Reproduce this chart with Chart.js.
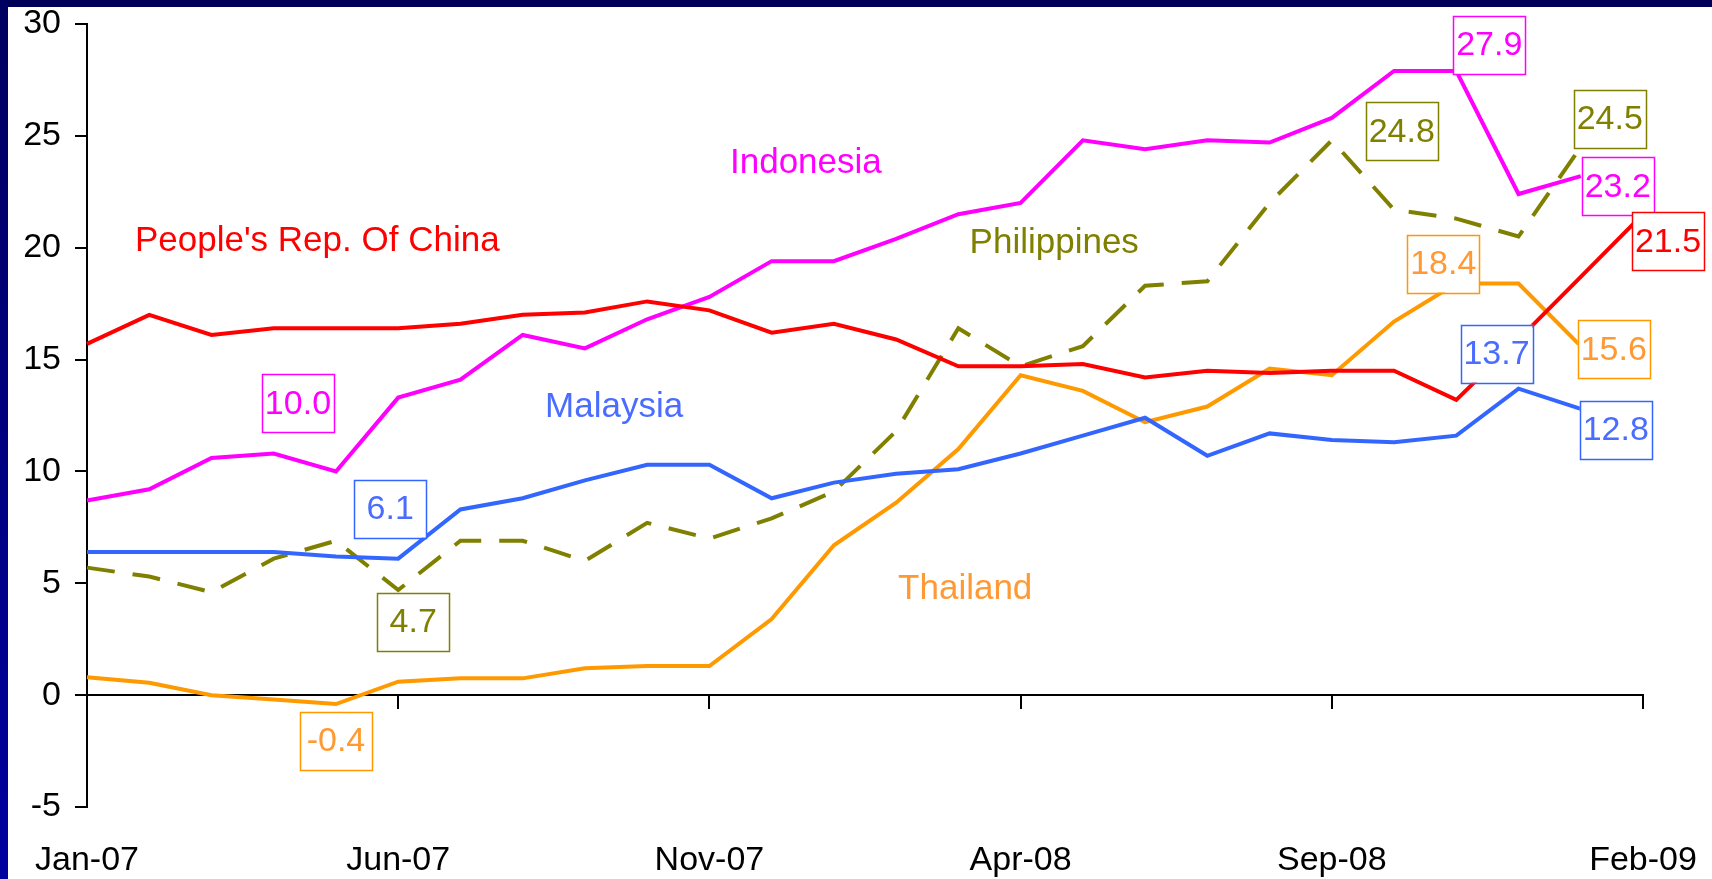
<!DOCTYPE html>
<html>
<head>
<meta charset="utf-8">
<script src="https://cdn.jsdelivr.net/npm/chart.js@4.4.0/dist/chart.umd.min.js"></script>
<style>
    html, body { margin: 0; padding: 0; overflow: hidden; background: #fff; }
    #topBand { position: absolute; left: 0; top: 0; width: 1712px; height: 7px; background: #000058; z-index: 2; }
    #leftBand { position: absolute; left: 0; top: 0; width: 8px; height: 879px; background: linear-gradient(#000060, #0000a0); z-index: 2; }
    #chart { position: absolute; left: 0; top: 0; }
</style>
</head>
<body>
<div id="topBand"></div>
<div id="leftBand"></div>
<canvas id="chart" width="1712" height="879"></canvas>
<script>
// categories
const months = ['Jan-07', 'Feb-07', 'Mar-07', 'Apr-07', 'May-07', 'Jun-07', 'Jul-07', 'Aug-07', 'Sep-07', 'Oct-07', 'Nov-07', 'Dec-07',
    'Jan-08', 'Feb-08', 'Mar-08', 'Apr-08', 'May-08', 'Jun-08', 'Jul-08', 'Aug-08', 'Sep-08', 'Oct-08', 'Nov-08', 'Dec-08',
    'Jan-09', 'Feb-09'];

// series values
const china = [15.7, 17.0, 16.1, 16.4, 16.4, 16.4, 16.6, 17.0, 17.1, 17.6, 17.2, 16.2, 16.6, 15.9, 14.7, 14.7, 14.8, 14.2, 14.5, 14.4, 14.5, 14.5, 13.2, 15.9, 18.7, 21.5];
const indonesia = [8.7, 9.2, 10.6, 10.8, 10.0, 13.3, 14.1, 16.1, 15.5, 16.8, 17.8, 19.4, 19.4, 20.4, 21.5, 22.0, 24.8, 24.4, 24.8, 24.7, 25.8, 27.9, 27.9, 22.4, 23.2, null];
const malaysia = [6.4, 6.4, 6.4, 6.4, 6.2, 6.1, 8.3, 8.8, 9.6, 10.3, 10.3, 8.8, 9.5, 9.9, 10.1, 10.8, 11.6, 12.4, 10.7, 11.7, 11.4, 11.3, 11.6, 13.7, 12.8, null];
const philippines = [5.7, 5.3, 4.6, 6.1, 6.9, 4.7, 6.9, 6.9, 6.0, 7.7, 7.0, 7.9, 9.1, 11.8, 16.4, 14.7, 15.6, 18.3, 18.5, 22.0, 24.8, 21.7, 21.3, 20.5, 24.5, null];
const thailand = [0.8, 0.55, 0.0, -0.2, -0.4, 0.6, 0.75, 0.75, 1.2, 1.3, 1.3, 3.4, 6.7, 8.6, 11.0, 14.3, 13.6, 12.2, 12.9, 14.6, 14.3, 16.7, 18.4, 18.4, 15.6, null];

// y axis ticks
const yMin = -5;
const yMax = 30;
const yStep = 5;
const labelEvery = 5; // x labels every 5 months

const FONT = "'Liberation Sans', Arial, sans-serif";

const seriesStyle = {
    china: { name: "People's Rep. Of China", color: '#ff0000', text: '#ff0000' },
    indonesia: { name: 'Indonesia', color: '#ff00ff', text: '#ff00ff' },
    malaysia: { name: 'Malaysia', color: '#3366ff', text: '#4a6cff' },
    philippines: { name: 'Philippines', color: '#808000', text: '#808000' },
    thailand: { name: 'Thailand', color: '#ff9900', text: '#ff9933' }
};
const seriesData = { china, indonesia, malaysia, philippines, thailand };

// boxed value labels: series, point index, box offset from the point (px)
const valueLabels = [
    { s: 'indonesia', i: 4, dx: -38, dy: -68 },
    { s: 'malaysia', i: 5, dx: -8, dy: -50 },
    { s: 'philippines', i: 5, dx: 15, dy: 32 },
    { s: 'thailand', i: 4, dx: 0, dy: 37 },
    { s: 'indonesia', i: 22, dx: 33, dy: -26 },
    { s: 'philippines', i: 20, dx: 70, dy: -9 },
    { s: 'philippines', i: 24, dx: 29, dy: -28 },
    { s: 'indonesia', i: 24, dx: 37, dy: 10 },
    { s: 'china', i: 25, dx: 25, dy: 27 },
    { s: 'thailand', i: 22, dx: -13, dy: -20 },
    { s: 'malaysia', i: 23, dx: -22, dy: -35 },
    { s: 'thailand', i: 24, dx: 33, dy: 3 },
    { s: 'malaysia', i: 24, dx: 35, dy: 21 }
];

// series name labels, placed in axis units (month index, value)
const nameLabels = [
    { s: 'china', at: 3.7, v: 20.27 },
    { s: 'indonesia', at: 11.55, v: 23.76 },
    { s: 'philippines', at: 15.54, v: 20.2 },
    { s: 'malaysia', at: 8.47, v: 12.85 },
    { s: 'thailand', at: 14.11, v: 4.74 }
];

const annotationPlugin = {
    id: 'annotations',
    afterDatasetsDraw(chart) {
        const ctx = chart.ctx;
        const xs = chart.scales.x;
        const ys = chart.scales.y;
        ctx.save();
        ctx.textAlign = 'center';
        ctx.textBaseline = 'middle';

        // series names
        ctx.font = '35px ' + FONT;
        nameLabels.forEach(n => {
            ctx.fillStyle = seriesStyle[n.s].text;
            ctx.fillText(seriesStyle[n.s].name, xs.getPixelForValue(n.at), ys.getPixelForValue(n.v));
        });

        // value boxes
        ctx.font = '34px ' + FONT;
        ctx.lineWidth = 1.5;
        const bw = 72, bh = 58;
        valueLabels.forEach(l => {
            const val = seriesData[l.s][l.i];
            const cx = xs.getPixelForValue(l.i) + l.dx;
            const cy = ys.getPixelForValue(val) + l.dy;
            ctx.fillStyle = '#ffffff';
            ctx.fillRect(cx - bw / 2, cy - bh / 2, bw, bh);
            ctx.strokeStyle = seriesStyle[l.s].color;
            ctx.strokeRect(Math.round(cx - bw / 2) + 0.5, Math.round(cy - bh / 2) + 0.5, bw, bh);
            ctx.fillStyle = seriesStyle[l.s].text;
            ctx.fillText(val.toFixed(1), cx, cy + 1);
        });
        ctx.restore();
    }
};

function makeDataset(key) {
    const ds = {
        label: seriesStyle[key].name,
        data: seriesData[key],
        borderColor: seriesStyle[key].color,
        backgroundColor: seriesStyle[key].color,
        borderWidth: 4,
        pointRadius: 0,
        tension: 0,
        fill: false,
        spanGaps: false
    };
    if (key === 'philippines') {
        ds.borderDash = [28, 18];
    }
    return ds;
}

new Chart(document.getElementById('chart').getContext('2d'), {
    type: 'line',
    data: {
        labels: months,
        datasets: ['china', 'indonesia', 'malaysia', 'thailand', 'philippines'].map(makeDataset)
    },
    options: {
        responsive: false,
        animation: false,
        layout: { padding: { left: 0, top: 24, right: 69, bottom: 0 } },
        plugins: {
            legend: { display: false },
            tooltip: { enabled: false }
        },
        scales: {
            x: {
                type: 'category',
                position: 'bottom',
                grid: { display: false },
                border: { display: false },
                ticks: {
                    autoSkip: false,
                    maxRotation: 0,
                    padding: 25,
                    color: '#000',
                    font: { family: FONT, size: 34 },
                    callback: function(value, index) {
                        return index % labelEvery === 0 ? this.getLabelForValue(value) : '';
                    }
                },
                afterFit: function(scale) {
                    scale.height = 72;
                    scale.paddingLeft = 0;
                    scale.paddingRight = 0;
                }
            },
            xZero: {
                type: 'category',
                axis: 'x',
                labels: months,
                position: { y: 0 },
                grid: {
                    drawOnChartArea: false,
                    drawTicks: true,
                    tickLength: 13,
                    lineWidth: 2,
                    tickColor: ctx => (ctx.index % labelEvery === 0 ? '#000' : 'rgba(0,0,0,0)')
                },
                border: { display: true, color: '#000', width: 2 },
                ticks: { display: false },
                afterFit: function(scale) {
                    scale.height = 0;
                    scale.paddingLeft = 0;
                    scale.paddingRight = 0;
                }
            },
            y: {
                min: yMin,
                max: yMax,
                ticks: {
                    stepSize: yStep,
                    padding: 14,
                    color: '#000',
                    font: { family: FONT, size: 34 }
                },
                grid: { drawOnChartArea: false, tickLength: 12, lineWidth: 2, tickColor: '#000' },
                border: { color: '#000', width: 2 },
                afterFit: function(scale) {
                    scale.width = 87;
                    scale.paddingTop = 0;
                    scale.paddingBottom = 0;
                }
            }
        }
    },
    plugins: [annotationPlugin]
});
</script>
</body>
</html>
